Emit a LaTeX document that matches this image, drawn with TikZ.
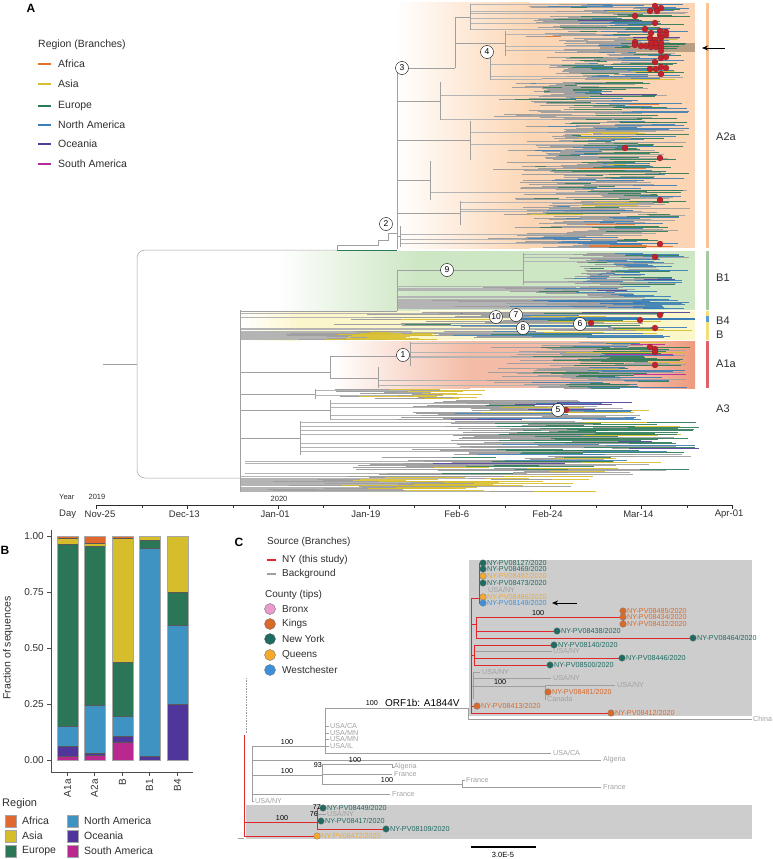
\documentclass[tikz,border=0pt]{standalone}
\usepackage{fontspec}
\setmainfont{Liberation Sans}
\usetikzlibrary{arrows.meta}
\definecolor{cAf}{HTML}{E2702F}
\definecolor{cAs}{HTML}{D8BE2C}
\definecolor{cEu}{HTML}{2B7A58}
\definecolor{cNA}{HTML}{3B7DB6}
\definecolor{cOc}{HTML}{4F3C98}
\definecolor{cSA}{HTML}{B52B9C}
\definecolor{cGr}{HTML}{A0A0A0}
\definecolor{cGl}{HTML}{B4B4B4}
\definecolor{bAf}{HTML}{E0692F}
\definecolor{bAs}{HTML}{D6BD2B}
\definecolor{bEu}{HTML}{2A7657}
\definecolor{bNA}{HTML}{3E93C2}
\definecolor{bOc}{HTML}{50369A}
\definecolor{bSA}{HTML}{B9288F}
\definecolor{peach}{HTML}{FCD6B4}
\definecolor{lgreen}{HTML}{CDE6C3}
\definecolor{lyell}{HTML}{FCF6CB}
\definecolor{salm}{HTML}{F4BCA6}
\definecolor{salmd}{HTML}{EE9A7E}
\definecolor{tanb}{HTML}{B89E82}
\definecolor{kO}{HTML}{F9C393}
\definecolor{kG}{HTML}{A8C8A2}
\definecolor{kY}{HTML}{F4DE7A}
\definecolor{kB}{HTML}{5A9DD5}
\definecolor{kR}{HTML}{E0616B}
\definecolor{reddot}{HTML}{C1232D}
\definecolor{nyred}{HTML}{E0282C}
\definecolor{kings}{HTML}{D96A2A}
\definecolor{nyc}{HTML}{1F6B62}
\definecolor{queens}{HTML}{F5A82B}
\definecolor{westc}{HTML}{3E8FDB}
\definecolor{bronx}{HTML}{EA9ACB}
\definecolor{boxg}{HTML}{CDCDCD}
\definecolor{tipg}{HTML}{A0A0A0}
\definecolor{txt}{HTML}{2E2E2E}
% palettes
\newcommand{\palA}{\ifdim\lrc pt<0.42pt\def\lcol{cEu}\else\ifdim\lrc pt<0.68pt\def\lcol{cNA}\else\ifdim\lrc pt<0.93pt\def\lcol{cGr}\else\ifdim\lrc pt<0.96pt\def\lcol{cAs}\else\ifdim\lrc pt<0.98pt\def\lcol{cOc}\else\def\lcol{cAf}\fi\fi\fi\fi\fi}
\newcommand{\palBone}{\ifdim\lrc pt<0.65pt\def\lcol{cNA}\else\ifdim\lrc pt<0.88pt\def\lcol{cGr}\else\ifdim\lrc pt<0.97pt\def\lcol{cEu}\else\def\lcol{cOc}\fi\fi\fi}
\newcommand{\palN}{\ifdim\lrc pt<0.85pt\def\lcol{cNA}\else\def\lcol{cGr}\fi}
\newcommand{\palBp}{\ifdim\lrc pt<0.35pt\def\lcol{cAs}\else\ifdim\lrc pt<0.6pt\def\lcol{cGr}\else\ifdim\lrc pt<0.72pt\def\lcol{cOc}\else\ifdim\lrc pt<0.88pt\def\lcol{cNA}\else\def\lcol{cEu}\fi\fi\fi\fi}
\newcommand{\palY}{\ifdim\lrc pt<0.8pt\def\lcol{cAs}\else\def\lcol{cGr}\fi}
\newcommand{\palAone}{\ifdim\lrc pt<0.55pt\def\lcol{cEu}\else\ifdim\lrc pt<0.8pt\def\lcol{cGr}\else\ifdim\lrc pt<0.93pt\def\lcol{cNA}\else\ifdim\lrc pt<0.97pt\def\lcol{cAs}\else\def\lcol{cSA}\fi\fi\fi\fi}
\newcommand{\palL}{\ifdim\lrc pt<0.3pt\def\lcol{cGr}\else\ifdim\lrc pt<0.5pt\def\lcol{cAs}\else\ifdim\lrc pt<0.7pt\def\lcol{cNA}\else\ifdim\lrc pt<0.85pt\def\lcol{cOc}\else\def\lcol{cEu}\fi\fi\fi\fi}
\newcommand{\palE}{\ifdim\lrc pt<0.55pt\def\lcol{cEu}\else\ifdim\lrc pt<0.8pt\def\lcol{cGr}\else\ifdim\lrc pt<0.88pt\def\lcol{cAs}\else\ifdim\lrc pt<0.94pt\def\lcol{cNA}\else\ifdim\lrc pt<0.97pt\def\lcol{cSA}\else\def\lcol{cOc}\fi\fi\fi\fi\fi}
\newcommand{\palLtwo}{\ifdim\lrc pt<0.35pt\def\lcol{cAs}\else\ifdim\lrc pt<0.6pt\def\lcol{cGr}\else\ifdim\lrc pt<0.85pt\def\lcol{cEu}\else\ifdim\lrc pt<0.93pt\def\lcol{cNA}\else\def\lcol{cOc}\fi\fi\fi\fi}
\def\pfull{0.12}
% leaves: y0 y1 step nodex emin emax palette startlo
\newcommand{\lvs}[8]{%
  \pgfmathsetmacro{\lvsec}{#1+#3}%
  \foreach \yy in {#1,\lvsec,...,#2}{%
    \pgfmathsetmacro{\lxe}{#5+(#6-#5)*sqrt(rnd)}%
    \pgfmathsetmacro{\lxs}{#4+(\lxe-#4)*(#8+(0.85-#8)*rnd)}%
    \pgfmathsetmacro{\lxm}{\lxs+(\lxe-\lxs)*(0.15+0.5*rnd)}%
    \pgfmathsetmacro{\lrc}{rnd}%
    \pgfmathsetmacro{\lfu}{rnd}%
    \csname pal#7\endcsname
    \ifdim\lfu pt<\pfull pt\draw[leafi] (#4,\yy) -- (\lxs,\yy);\fi
    \draw[leafg] (\lxs,\yy) -- (\lxm,\yy);
    \draw[leaf,draw=\lcol] (\lxm,\yy) -- (\lxe,\yy);
  }%
}
\newcommand{\bseg}[4]{\filldraw[fill=#4,draw=black!65,line width=0.35pt] (#1,{760-224*#2}) rectangle ({#1+21},{760-224*#3});}
\begin{document}
\begin{tikzpicture}[x=1pt,y=-1pt,
  br/.style={draw=cGr,line width=0.5pt},
  leafi/.style={draw=cGl,line width=0.45pt},
  leafg/.style={draw=cGr,line width=0.55pt},
  leaf/.style={line width=0.6pt,draw opacity=0.9},
  lab/.style={font=\fontsize{10.5}{12}\selectfont,text=txt,inner sep=0pt,anchor=west},
  clab/.style={font=\fontsize{11}{13}\selectfont,text=txt,inner sep=0pt,anchor=west},
  circ/.style={circle,draw=black,line width=0.4pt,fill=white,inner sep=0pt,minimum size=13pt,font=\fontsize{8.5}{10}\selectfont},
  rdot/.style={circle,fill=reddot,draw=reddot!70!black,line width=0.2pt,inner sep=0pt,minimum size=6pt},
  panel/.style={font=\bfseries\fontsize{12}{14}\selectfont,inner sep=0pt},
  axl/.style={font=\fontsize{9.5}{11}\selectfont,text=txt,inner sep=0pt},
  tip/.style={font=\fontsize{7.2}{8}\selectfont,inner sep=0pt,anchor=west},
  bsv/.style={font=\fontsize{7.2}{8}\selectfont,inner sep=0pt},
  cdot/.style={circle,inner sep=0pt,minimum size=6.6pt,draw=black!55,line width=0.25pt},
  nyl/.style={draw=nyred,line width=0.9pt},
  bgl/.style={draw=black!38,line width=0.6pt}]
\useasboundingbox (0,0) rectangle (773,859);
\pgfmathsetseed{7}
% ================= PANEL A =================
\node[panel] (pA) at (31,8) {A};
\node[lab] (legA) at (38,45) {Region (Branches)};
\foreach \yy/\cc/\lbl [count=\i] in {64/cAf/Africa,84/cAs/Asia,106/cEu/Europe,125/cNA/North America,144/cOc/Oceania,164/cSA/South America}{
  \draw[\cc,line width=2pt] (38,\yy) -- (51,\yy);
  \node[lab] (la\i) at (58,\yy) {\lbl};}
% backgrounds
\shade[left color=white,right color=peach] (395,3) rectangle (530,248);
\fill[peach] (530,3) rectangle (695,248);
\shade[left color=white,right color=lgreen] (277,251) rectangle (420,310);
\fill[lgreen] (420,251) rectangle (695,310);
\shade[left color=white,right color=lyell] (240,311) rectangle (300,340);
\fill[lyell] (300,311) rectangle (695,340);
\shade[left color=white,right color=salm] (333,341) rectangle (470,388);
\fill[salm] (470,341) rectangle (660,388);
\shade[left color=salm,right color=salmd] (640,341) rectangle (695,388);
\fill[tanb] (600,43) rectangle (695,52);
% clade bars
\fill[kO] (706,3) rectangle (708.5,248);
\fill[kG] (706,251) rectangle (708.5,310);
\fill[kY] (706,311) rectangle (708.5,340);
\fill[kB] (706,316) rectangle (708.5,322);
\fill[kR] (706,341) rectangle (708.5,388);
% leaves
\lvs{4}{30}{0.75}{470}{575}{690}{A}{0.35}
\lvs{31}{56}{0.75}{505}{560}{690}{A}{0.3}
\lvs{57}{80}{0.75}{490}{560}{690}{A}{0.35}
\lvs{82}{120}{0.8}{440}{540}{690}{A}{0.4}
\lvs{121}{160}{0.8}{470}{550}{690}{A}{0.35}
\lvs{161}{200}{0.8}{430}{540}{690}{A}{0.4}
\lvs{201}{225}{0.8}{460}{550}{690}{A}{0.35}
\lvs{226}{247}{0.8}{400}{540}{680}{A}{0.45}
\lvs{253}{285}{0.8}{523}{590}{690}{Bone}{0.3}
\def\pfull{0.3}
\lvs{286}{298}{0.8}{397}{560}{690}{Bone}{0.45}
\def\pfull{1}
\lvs{299}{308.5}{0.5}{397}{590}{690}{N}{0.05}
\def\pfull{0.15}
\lvs{312}{338}{0.8}{240}{420}{700}{Bp}{0.3}
\def\pfull{1}
\lvs{331}{339.5}{0.6}{240}{330}{440}{Y}{0.05}
\draw[cNA,line width=1.8pt] (520,319) -- (695,319);
\def\pfull{0.12}
\lvs{342}{366}{0.8}{410}{600}{690}{Aone}{0.4}
\lvs{367}{388}{0.8}{378}{560}{690}{Aone}{0.45}
\def\pfull{0.3}
\lvs{389}{399}{0.8}{315}{400}{490}{Y}{0.1}
\def\pfull{0.12}
\lvs{400}{420}{0.7}{330}{480}{650}{L}{0.2}
\lvs{421}{455}{0.8}{300}{540}{700}{E}{0.4}
\lvs{456}{475}{0.8}{245}{450}{700}{Ltwo}{0.3}
\def\pfull{0.6}
\lvs{476}{492}{0.6}{240}{380}{600}{Y}{0.1}
% skeleton
\draw[br] (103,364) -- (137,364);
\draw[br,rounded corners=8pt] (337,250) -- (137,250) -- (137,478) -- (240,478);
\draw[br] (337,250) -- (337,245) -- (378,245) -- (378,240) -- (388,240) -- (388,233) -- (397,233);
\draw[cEu,line width=0.6pt] (337,250) -- (397,250);
\draw[br] (397,68) -- (397,249);
\draw[br] (397,68) -- (455,68) (455,17) -- (455,68) (455,17) -- (470,17) (455,43) -- (505,43);
\draw[br] (470,4) -- (470,30) (505,31) -- (505,56) (490,57) -- (490,80);
\draw[br] (397,101) -- (440,101) (440,82) -- (440,120);
\draw[br] (397,140) -- (470,140) (470,121) -- (470,160);
\draw[br] (397,180) -- (430,180) (430,161) -- (430,200);
\draw[br] (397,213) -- (460,213) (460,201) -- (460,225);
\draw[br] (397,236) -- (400,236) (400,226) -- (400,247);
\draw[br] (240,310) -- (240,492);
\draw[br] (240,311) -- (397,311) (397,270) -- (397,311) (397,270) -- (523,270) (523,253) -- (523,285);
\draw[br] (240,372) -- (330,372) (330,356) -- (330,378) (330,356) -- (410,356) (330,378) -- (378,378) (410,342) -- (410,366) (378,367) -- (378,388);
\draw[br] (240,394) -- (315,394) (315,389) -- (315,399);
\draw[br] (240,410) -- (330,410) (330,400) -- (330,420);
\draw[br] (240,438) -- (300,438) (300,421) -- (300,455);
% red dots
\foreach \xx/\yy [count=\i] in {655/6,661/8,650/11,657/11,635/16,655/23,645/29,651/33,660/31,666/32,660/35,666/35,650/38,655/40,661/38,635/42,635/45,641/46,646/46,651/47,656/47,661/47,651/43,656/43,661/43,661/51,655/62,661/58,666/57,650/69,656/69,661/67,666/68,661/74,625/148,660/158,660/200,660/244,655/257,660/315,640/320,591/323,655/328,650/347,655/349,655/352,655/365,566/410}
  \node[rdot] (rd\i) at (\xx,\yy) {};
% numbered circles
\node[circ] (n1) at (403,355) {1};
\node[circ] (n2) at (386,224) {2};
\node[circ] (n3) at (402,68) {3};
\node[circ] (n4) at (487,52) {4};
\node[circ] (n5) at (558,410) {5};
\node[circ] (n6) at (580,324) {6};
\node[circ] (n7) at (516,315) {7};
\node[circ] (n8) at (523,328) {8};
\node[circ] (n9) at (447,270) {9};
\node[circ] (n10) at (496,317) {10};
% arrow
\coordinate (arA) at (725,48);
\coordinate (arAe) at (702,48);
\draw[-{Stealth[length=6pt,width=5pt]},line width=0.8pt] (arA) -- (arAe);
% clade labels
\node[clab] (kA2a) at (716,137) {A2a};
\node[clab] (kB1) at (716,278) {B1};
\node[clab] (kB4) at (716,321) {B4};
\node[clab] (kBB) at (716,335) {B};
\node[clab] (kA1a) at (716,364) {A1a};
\node[clab] (kA3) at (716,409) {A3};
% time axis
\node[font=\fontsize{7.5}{9}\selectfont,text=txt,inner sep=0pt,anchor=west] (yr) at (59,497) {Year};
\node[font=\fontsize{7.5}{9}\selectfont,text=txt,inner sep=0pt] (y19) at (97,497) {2019};
\node[font=\fontsize{7.5}{9}\selectfont,text=txt,inner sep=0pt] (y20) at (279,499) {2020};
\draw[txt,line width=0.6pt] (96.5,505) -- (732.1,505);
\foreach \k in {0,...,7} \draw[txt,line width=0.5pt] ({96.5+90.8*\k},505) -- ++(0,4);
\foreach \k in {0,...,6} \draw[txt,line width=0.4pt] ({141.9+90.8*\k},505) -- ++(0,2.5);
\node[axl,anchor=west] (day) at (59,514) {Day};
\node[axl] (d0) at (100,514) {Nov-25};
\foreach \k/\lbl in {1/Dec-13,2/Jan-01,3/Jan-19,4/Feb-6,5/Feb-24,6/Mar-14,7/Apr-01}
  \node[axl] (d\k) at ({93.5+90.8*\k},514) {\lbl};
% ================= PANEL B =================
\node[panel] (pB) at (5,550) {B};
\bseg{57}{0}{0.015}{bSA}\bseg{57}{0.015}{0.06}{bOc}\bseg{57}{0.06}{0.15}{bNA}\bseg{57}{0.15}{0.965}{bEu}\bseg{57}{0.965}{0.99}{bAs}\bseg{57}{0.99}{1}{bAf}
\bseg{84}{0}{0.02}{bSA}\bseg{84}{0.02}{0.03}{bOc}\bseg{84}{0.03}{0.245}{bNA}\bseg{84}{0.245}{0.955}{bEu}\bseg{84}{0.955}{0.97}{bAs}\bseg{84}{0.97}{1}{bAf}
\bseg{112}{0}{0.08}{bSA}\bseg{112}{0.08}{0.105}{bOc}\bseg{112}{0.105}{0.195}{bNA}\bseg{112}{0.195}{0.435}{bEu}\bseg{112}{0.435}{0.99}{bAs}\bseg{112}{0.99}{1}{bAf}
\bseg{139}{0}{0.015}{bOc}\bseg{139}{0.015}{0.945}{bNA}\bseg{139}{0.945}{0.98}{bEu}\bseg{139}{0.98}{1}{bAs}
\bseg{167}{0}{0.25}{bOc}\bseg{167}{0.25}{0.6}{bNA}\bseg{167}{0.6}{0.75}{bEu}\bseg{167}{0.75}{1}{bAs}
\foreach \xx in {57,84,112,139,167} \draw[black!35,line width=0.6pt] (\xx,536) rectangle ({\xx+21},760);
\draw[black!70,line width=0.8pt] (51,530) -- (51,772) -- (193,772);
\foreach \vv/\lbl [count=\i] in {0/0.00,0.25/0.25,0.5/0.50,0.75/0.75,1/1.00}{
  \draw[black!70,line width=0.6pt] (47,{760-224*\vv}) -- (51,{760-224*\vv});
  \node[font=\fontsize{10}{12}\selectfont,text=txt,inner sep=0pt,anchor=east] (bt\i) at (44,{760-224*\vv}) {\lbl};}
\foreach \xx/\lbl [count=\i] in {67.5/A1a,94.5/A2a,122.5/B,149.5/B1,177.5/B4}{
  \draw[black!70,line width=0.6pt] (\xx,772) -- (\xx,776);
  \node[font=\fontsize{10}{12}\selectfont,text=txt,inner sep=0pt,anchor=east,rotate=90] (bx\i) at (\xx,779) {\lbl};}
\node[font=\fontsize{10.5}{12}\selectfont,text=txt,inner sep=0pt,rotate=90] (fy) at (8,648) {Fraction of sequences};
\node[font=\fontsize{11}{13}\selectfont,text=txt,inner sep=0pt,anchor=west] (rgB) at (2,804) {Region};
\foreach \xx/\yy/\cc/\lbl [count=\i] in {5/821/bAf/Africa,5/836/bAs/Asia,5/851/bEu/Europe,67/821/bNA/North America,67/836/bOc/Oceania,67/851/bSA/South America}{
  \filldraw[fill=\cc,draw=black!35,line width=0.5pt] (\xx,{\yy-6}) rectangle ({\xx+11},{\yy+6});
  \node[font=\fontsize{10.5}{12}\selectfont,text=txt,inner sep=0pt,anchor=west] (lb\i) at ({\xx+17},\yy) {\lbl};}
% ================= PANEL C =================
\node[panel] (pC) at (239,542) {C};
\node[lab,font=\fontsize{10}{12}\selectfont] (srcC) at (267,542) {Source (Branches)};
\draw[nyred,line width=2pt] (267,560) -- (276,560);
\node[lab,font=\fontsize{10}{12}\selectfont] (nyC) at (282,560) {NY (this study)};
\draw[tipg,line width=2pt] (267,574) -- (276,574);
\node[lab,font=\fontsize{10}{12}\selectfont] (bgC) at (282,574) {Background};
\node[lab,font=\fontsize{10}{12}\selectfont] (ctC) at (265,595) {County (tips)};
\foreach \yy/\cc/\lbl [count=\i] in {609/bronx/Bronx,624/kings/Kings,639/nyc/New York,655/queens/Queens,670/westc/Westchester}{
  \node[circle,fill=\cc,draw=black!60,line width=0.3pt,minimum size=11pt,inner sep=0pt] (cc\i) at (270,\yy) {};
  \node[lab,font=\fontsize{10}{12}\selectfont] (cl\i) at (282,\yy) {\lbl};}
% boxes
\fill[boxg] (469,560) rectangle (752,716);
\fill[boxg] (246,805) rectangle (752,839);
% background branches
\draw[bgl] (325,708) -- (468,708) (325,708) -- (325,753);
\draw[bgl] (468,708) -- (468,719) -- (752,719);
\draw[bgl] (325,726) -- (329,726) (325,733) -- (329,733) (325,739) -- (329,739) (325,746) -- (329,746);
\draw[bgl] (252,746) -- (325,746);
\draw[bgl] (325,753) -- (551,753);
\draw[bgl] (252,760) -- (601,760);
\draw[bgl] (252,775) -- (322,775) (322,764) -- (322,784) (322,764) -- (392,764) -- (392,767) -- (394,767);
\draw[bgl] (322,774) -- (392,774) (322,784) -- (462,784) (462,780) -- (462,787) (462,780) -- (465,780) (462,787) -- (601,787);
\draw[bgl] (252,794) -- (390,794);
\draw[bgl] (252,746) -- (252,801) -- (254,801);
\draw[bgl,densely dotted] (246,678) -- (246,733);
\draw[bgl] (238,838) -- (244,838);
% background branches inside top box
\draw[bgl] (474,651) -- (552,651);
\draw[bgl] (471,686) -- (473,686) (473,672) -- (473,699) (473,672) -- (480,672) (473,678) -- (551,678) (473,686) -- (545,686) (545,685) -- (545,699) (545,685) -- (615,685) (545,699) -- (546,699) (545,692) -- (548,692);
% NY branches
\draw[nyl] (471,598) -- (471,713);
\draw[nyl] (471,598) -- (479,598) (479,563) -- (479,603);
\foreach \yy in {563,569,576,583,597,603} \draw[nyl,line width=0.6pt] (479,\yy) -- (483,\yy);
\draw[nyl] (471,624) -- (476,624) (476,617) -- (476,638) (476,617) -- (623,617) (623,611) -- (623,624) (476,631) -- (557,631) (476,638) -- (693,638);
\draw[nyl] (471,655) -- (474,655) (474,645) -- (474,665) (474,645) -- (554,645) (474,658) -- (622,658) (474,665) -- (550,665);
\draw[nyl] (471,706) -- (477,706) (471,713) -- (611,713);
\draw[nyl] (244,735) -- (244,836) (244,822) -- (317,822) (317,808) -- (317,829) (317,829) -- (386,829) (244,836) -- (317,836) (317,808) -- (323,808);
\draw[bgl] (317,814) -- (326,814);
% tips
\foreach \xx/\yy/\cc/\lbl [count=\i] in {483/563/nyc/NY-PV08127,483/569/nyc/NY-PV08469,483/576/queens/NY-PV08497,483/583/nyc/NY-PV08473,483/597/queens/NY-PV08486,483/603/westc/NY-PV08149,623/611/kings/NY-PV08485,623/617/kings/NY-PV08434,623/624/kings/NY-PV08432,557/631/nyc/NY-PV08438,693/638/nyc/NY-PV08464,554/645/nyc/NY-PV08140,622/658/nyc/NY-PV08446,550/665/nyc/NY-PV08500,548/692/kings/NY-PV08481,477/706/kings/NY-PV08413,611/713/kings/NY-PV08412,323/808/nyc/NY-PV08449,321/821/nyc/NY-PV08417,386/829/nyc/NY-PV08109,317/836/queens/NY-PV08472}{
  \node[cdot,fill=\cc] (tp\i) at (\xx,\yy) {};
  \node[tip,text=\cc] (tl\i) at ({\xx+4},\yy) {\lbl/2020};}
% grey tip labels
\foreach \xx/\yy/\lbl [count=\i] in {488/590/USA\slash NY,553/651/USA\slash NY,482/672/USA\slash NY,553/678/USA\slash NY,617/685/USA\slash NY,547/699/Canada,753/719/China,330/726/USA\slash CA,330/733/USA\slash MN,330/739/USA\slash MN,330/746/USA\slash IL,553/753/USA\slash CA,603/760/Algeria,394/767/Algeria,394/774/France,466/780/France,603/787/France,392/794/France,255/801/USA\slash NY,327/814/USA\slash NY}
  \node[tip,text=tipg] (gt\i) at (\xx,\yy) {\lbl};
% support values
\node[bsv] (s1) at (538,613) {100};
\node[bsv] (s2) at (500,682) {100};
\node[bsv,anchor=east] (s3) at (378,703) {100};
\node[font=\fontsize{10}{12}\selectfont,inner sep=0pt,anchor=west] (orf) at (385,703) {ORF1b: A1844V};
\node[bsv] (s4) at (287,742) {100};
\node[bsv,anchor=east] (s5) at (322,765) {93};
\node[bsv] (s6) at (355,760) {100};
\node[bsv] (s7) at (287,771) {100};
\node[bsv] (s8) at (387,780) {100};
\node[bsv,anchor=east] (s9) at (321,807) {77};
\node[bsv,anchor=east] (s10) at (318,814) {76};
\node[bsv] (s11) at (282,818) {100};
% arrow C
\coordinate (arC) at (577,603);
\coordinate (arCe) at (552,603);
\draw[-{Stealth[length=6pt,width=5pt]},line width=0.8pt] (arC) -- (arCe);
% scale bar
\coordinate (sb1) at (471,847);
\coordinate (sb2) at (536,847);
\draw[line width=1.2pt] (sb1) -- (sb2);
\node[font=\fontsize{7.5}{9}\selectfont,inner sep=0pt] (sbl) at (503,855) {3.0E-5};
\end{tikzpicture}
\end{document}
